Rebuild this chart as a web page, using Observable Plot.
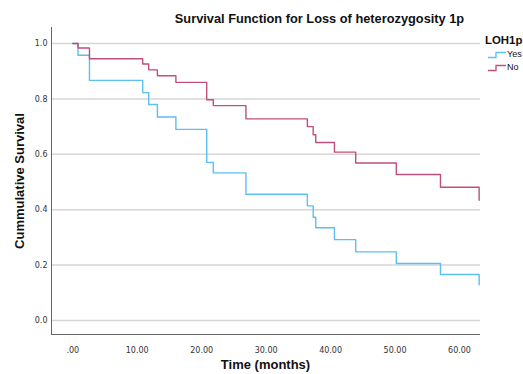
<!DOCTYPE html>
<html>
<head>
<meta charset="utf-8">
<script src="https://cdn.jsdelivr.net/npm/d3@7"></script>
<script src="https://cdn.jsdelivr.net/npm/@observablehq/plot@0.6"></script>
<style>
  html, body { margin: 0; padding: 0; background: #fff; }
  #wrap { position: relative; width: 523px; height: 374px; overflow: hidden; background: #fff; }
  .ttl { position: absolute; font-family: "Liberation Sans", Arial, sans-serif; font-weight: bold; color: #111; white-space: nowrap; }
  .leg { position: absolute; font-family: "Liberation Sans", Arial, sans-serif; color: #111; white-space: nowrap; }
</style>
</head>
<body>
<div id="wrap">
  <div id="chart"></div>
  <div class="ttl" id="title" style="left:0;width:639px;text-align:center;top:10.6px;font-size:12.8px;line-height:16px;">Survival Function for Loss of heterozygosity 1p</div>
  <div class="ttl" id="xtitle" style="left:165.5px;width:200px;text-align:center;top:357px;font-size:13px;line-height:16px;">Time (months)</div>
  <div class="ttl" id="ytitle" style="left:-80px;width:200px;height:16px;text-align:center;top:172.5px;font-size:13px;line-height:16px;transform:rotate(-90deg);">Cummulative Survival</div>
  <div id="legend"></div>
</div>
<script>
// ---- data ----
const months  = [0, 0.82, 2.59, 10.85, 11.78, 13.13, 16.0, 20.78, 21.8, 26.87, 36.4, 37.3, 37.7, 40.6, 43.9, 50.2, 57.05, 63.05];
const survYes = [1.0, 0.958, 0.867, 0.823, 0.78, 0.735, 0.69, 0.571, 0.533, 0.456, 0.414, 0.373, 0.335, 0.292, 0.248, 0.206, 0.166, 0.129];
const survNo  = [1.0, 0.984, 0.945, 0.926, 0.905, 0.884, 0.86, 0.797, 0.776, 0.728, 0.70, 0.671, 0.643, 0.608, 0.569, 0.527, 0.481, 0.434];
const groups = ["Yes", "No"];
const groupColors = ["#5cbff2", "#bf4f7e"];
const xTicks = [0, 10, 20, 30, 40, 50, 60];
const xTickLabels = [".00", "10.00", "20.00", "30.00", "40.00", "50.00", "60.00"];
const yTicks = [0, 0.2, 0.4, 0.6, 0.8, 1.0];
const yTickLabels = ["0.0", "0.2", "0.4", "0.6", "0.8", "1.0"];
const xDomain = [-3.3, 63.26];
const yDomain = [-0.0505, 1.058];
const legendTitle = "LOH1p";

const rows = [];
months.forEach((t, i) => {
  rows.push({group: groups[0], t, s: survYes[i]});
  rows.push({group: groups[1], t, s: survNo[i]});
});

const plot = Plot.plot({
  width: 523,
  height: 374,
  marginLeft: 51,
  marginRight: 43,
  marginTop: 27,
  marginBottom: 40,
  style: {fontFamily: "DejaVu Sans, sans-serif", fontSize: "8px", color: "#333", background: "#fff"},
  x: {domain: xDomain, ticks: xTicks, tickFormat: d => xTickLabels[xTicks.indexOf(d)], tickSize: 0, tickPadding: 13, label: null},
  y: {domain: yDomain, ticks: yTicks, tickFormat: d => yTickLabels[yTicks.indexOf(d)], tickSize: 0, tickPadding: 4, label: null},
  color: {domain: groups, range: groupColors},
  marks: [
    Plot.ruleY(yTicks, {stroke: "#d6d6d6", strokeWidth: 1.5}),
    Plot.ruleX([xDomain[0]], {stroke: "#666", strokeWidth: 1}),
    Plot.ruleY([yDomain[0]], {stroke: "#666", strokeWidth: 1}),
    Plot.line(rows, {x: "t", y: "s", z: "group", stroke: "group", curve: "step-after", strokeWidth: 1.4})
  ]
});
document.getElementById("chart").appendChild(plot);

// legend (HTML text + small step icons)
const leg = document.getElementById("legend");
const lt = document.createElement("div");
lt.className = "leg";
lt.style.cssText = "left:485px;top:32.5px;font-size:11.4px;line-height:14px;font-weight:bold;";
lt.textContent = legendTitle;
leg.appendChild(lt);
groups.forEach((g, i) => {
  const top = 49 + i * 13;
  const icon = document.createElementNS("http://www.w3.org/2000/svg", "svg");
  icon.setAttribute("width", 20);
  icon.setAttribute("height", 8);
  icon.style.cssText = `position:absolute;left:487px;top:${top + 2}px;`;
  const pl = document.createElementNS("http://www.w3.org/2000/svg", "polyline");
  pl.setAttribute("points", "1,6.5 9,6.5 9,1.5 19,1.5");
  pl.setAttribute("fill", "none");
  pl.setAttribute("stroke", groupColors[i]);
  pl.setAttribute("stroke-width", 1.3);
  icon.appendChild(pl);
  leg.appendChild(icon);
  const t = document.createElement("div");
  t.className = "leg";
  t.style.cssText = `left:507px;top:${top}px;font-size:9px;line-height:11px;`;
  t.textContent = g;
  leg.appendChild(t);
});
</script>
</body>
</html>
